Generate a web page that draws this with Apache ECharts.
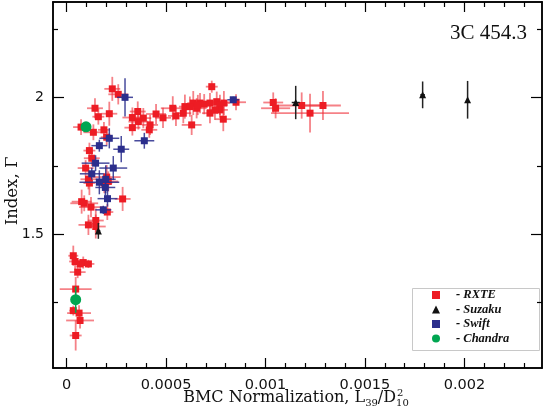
<!DOCTYPE html>
<html>
<head>
<meta charset="utf-8">
<script src="https://cdn.jsdelivr.net/npm/echarts@6/dist/echarts.min.js"></script>
<style>
    html, body { margin: 0; padding: 0; background: #fff; }
    #chart { width: 545px; height: 413px; }
</style>
</head>
<body>
<div id="chart"></div>
<script>
// RXTE points: x, y, x error, y error
const rxteX = [0.000034, 0.000043, 0.000068, 0.000084, 0.00011, 0.000056, 0.000046, 0.000034, 0.000063, 0.000068, 0.000046,
    0.00011, 0.000147, 0.000147, 0.000205, 0.000123, 0.000089, 0.000076, 0.000282, 0.000115, 0.00019, 0.00021, 0.000202,
    0.00011, 0.000096, 0.000127, 0.000115, 0.000073, 0.000135, 0.000188, 0.000202, 0.000143, 0.00016, 0.000215, 0.00023,
    0.00026, 0.000331, 0.000331, 0.000358, 0.000386, 0.00042, 0.000416, 0.00045, 0.000361, 0.000534, 0.000587, 0.000595,
    0.000637, 0.000671, 0.000654, 0.000692, 0.000721, 0.000755, 0.000771, 0.000791, 0.000721, 0.000771, 0.000629, 0.000788,
    0.000852, 0.00073, 0.00062, 0.000746, 0.00066, 0.000485, 0.00055,
    0.001039, 0.001051, 0.001182, 0.001224, 0.001289];
const rxteY = [1.421, 1.400, 1.391, 1.396, 1.391, 1.361, 1.299, 1.220, 1.211, 1.184, 1.129,
    1.534, 1.550, 1.528, 1.581, 1.599, 1.613, 1.619, 1.629, 1.687, 1.687, 1.693, 1.709,
    1.701, 1.742, 1.778, 1.806, 1.892, 1.873, 1.882, 1.855, 1.961, 1.930, 1.941, 2.032,
    2.012, 1.927, 1.890, 1.949, 1.925, 1.900, 1.882, 1.940, 1.912, 1.961, 1.943, 1.967,
    1.980, 1.980, 1.961, 1.976, 1.980, 1.985, 1.973, 1.980, 1.943, 1.955, 1.900, 1.921,
    1.983, 2.040, 1.967, 1.955, 1.973, 1.926, 1.933,
    1.982, 1.961, 1.971, 1.943, 1.971];
const rxteXErr = [0.000025, 0.00003, 0.00003, 0.000025, 0.00003, 0.00004, 0.00008, 0.00002, 0.00006, 0.00007, 0.00003,
    0.00005, 0.00004, 0.00005, 0.00003, 0.00006, 0.00007, 0.00005, 0.00004, 0.00003, 0.00004, 0.00005, 0.00007,
    0.00004, 0.00004, 0.00004, 0.00003, 0.00004, 0.00005, 0.00003, 0.00003, 0.00004, 0.00003, 0.00004, 0.00004,
    0.00005, 0.00005, 0.00004, 0.00004, 0.00004, 0.00004, 0.00004, 0.00005, 0.00005, 0.00006, 0.00004, 0.00003,
    0.00003, 0.00004, 0.00005, 0.00003, 0.00004, 0.00003, 0.00004, 0.00003, 0.00004, 0.00004, 0.00005, 0.00004,
    0.00005, 0.00003, 0.00004, 0.00004, 0.00004, 0.00004, 0.00004,
    0.00005, 0.000073, 0.000124, 0.000196, 0.00009];
const rxteYErr = [0.037, 0.029, 0.018, 0.022, 0.015, 0.022, 0.044, 0.018, 0.029, 0.029, 0.055,
    0.037, 0.044, 0.044, 0.029, 0.037, 0.029, 0.044, 0.044, 0.044, 0.037, 0.037, 0.044,
    0.037, 0.029, 0.029, 0.029, 0.029, 0.029, 0.029, 0.029, 0.037, 0.029, 0.044, 0.044,
    0.037, 0.037, 0.029, 0.037, 0.037, 0.037, 0.029, 0.037, 0.029, 0.044, 0.037, 0.044,
    0.044, 0.037, 0.037, 0.037, 0.037, 0.037, 0.037, 0.044, 0.037, 0.029, 0.037, 0.044,
    0.029, 0.022, 0.037, 0.037, 0.037, 0.037, 0.037,
    0.037, 0.037, 0.048, 0.071, 0.053];

// Suzaku
const suzakuX = [0.00016, 0.001152, 0.00179, 0.002016];
const suzakuY = [1.512, 1.982, 2.010, 1.992];
const suzakuXErr = [0.00001, 0.00002, 0.000012, 0];
const suzakuYErr = [0.029, 0.061, 0.049, 0.069];

// Swift
const swiftX = [0.000294, 0.000215, 0.000165, 0.000275, 0.000391, 0.000146, 0.000235, 0.000127, 0.000165, 0.000197,
    0.000195, 0.000206, 0.000185, 0.000838];
const swiftY = [2.001, 1.851, 1.824, 1.811, 1.842, 1.760, 1.742, 1.721, 1.690, 1.701,
    1.671, 1.630, 1.589, 1.992];
const swiftXErr = [0.00004, 0.00005, 0.00004, 0.00004, 0.00005, 0.00007, 0.00007, 0.00006, 0.0001, 0.00005,
    0.00005, 0.00005, 0.00004, 0.00003];
const swiftYErr = [0.07, 0.037, 0.022, 0.048, 0.029, 0.029, 0.044, 0.022, 0.044, 0.051,
    0.029, 0.029, 0.015, 0.011];

// Chandra
const chandraX = [0.000098, 0.000046];
const chandraY = [1.893, 1.260];
const chandraXErr = [0, 0];
const chandraYErr = [0.012, 0.048];

const xMajorTicks = [0, 0.0005, 0.001, 0.0015, 0.002];
const xTickLabels = ['0', '0.0005', '0.001', '0.0015', '0.002'];
const xMinorTicks = [0.0001, 0.0002, 0.0003, 0.0004, 0.0006, 0.0007, 0.0008, 0.0009, 0.0011, 0.0012,
    0.0013, 0.0014, 0.0016, 0.0017, 0.0018, 0.0019, 0.0021, 0.0022, 0.0023];
const yMajorTicks = [1.5, 2];
const yTickLabels = ['1.5', '2'];
const yMinorTicks = [1.25, 1.75, 2.25];

const X_MIN = -0.000068, X_MAX = 0.00239;
const Y_MIN = 1.01, Y_MAX = 2.35;

function rows(xs, ys, xe, ye) {
    return xs.map((x, i) => [x, ys[i], xe[i], ye[i]]);
}

function errorBars(color, width) {
    return function (params, api) {
        const x = api.value(0), y = api.value(1), xe = api.value(2), ye = api.value(3);
        const l = api.coord([x - xe, y]), r = api.coord([x + xe, y]);
        const t = api.coord([x, y + ye]), b = api.coord([x, y - ye]);
        const style = { stroke: color, lineWidth: width };
        return {
            type: 'group',
            children: [
                { type: 'line', shape: { x1: l[0], y1: l[1], x2: r[0], y2: r[1] }, style: style },
                { type: 'line', shape: { x1: t[0], y1: t[1], x2: b[0], y2: b[1] }, style: style }
            ]
        };
    };
}

function xAxisDef(position, ticks, len, labels) {
    return {
        type: 'value', position: position, min: X_MIN, max: X_MAX,
        axisLine: { show: true, onZero: false, lineStyle: { color: '#000', width: 1.5 } },
        axisTick: { show: true, inside: true, length: len, customValues: ticks, lineStyle: { color: '#000', width: 1.2 } },
        axisLabel: labels ? {
            show: true, customValues: ticks, margin: 10,
            fontFamily: 'DejaVu Sans', fontSize: 14.5, color: '#111',
            formatter: (v) => xTickLabels[xMajorTicks.findIndex(t => Math.abs(t - v) < 1e-9)] || ''
        } : { show: false },
        splitLine: { show: false }
    };
}

function yAxisDef(position, ticks, len, labels) {
    return {
        type: 'value', position: position, min: Y_MIN, max: Y_MAX,
        axisLine: { show: true, onZero: false, lineStyle: { color: '#000', width: 1.5 } },
        axisTick: { show: true, inside: true, length: len, customValues: ticks, lineStyle: { color: '#000', width: 1.2 } },
        axisLabel: labels ? {
            show: true, customValues: ticks, margin: 9,
            fontFamily: 'DejaVu Sans', fontSize: 14, color: '#111',
            formatter: (v) => yTickLabels[yMajorTicks.findIndex(t => Math.abs(t - v) < 1e-9)] || ''
        } : { show: false },
        splitLine: { show: false }
    };
}

// x axis title with sub/superscripts, laid out from measured widths
const measureCtx = document.createElement('canvas').getContext('2d');
function textWidth(str, size) {
    measureCtx.font = size + 'px "DejaVu Serif"';
    return measureCtx.measureText(str).width;
}
const titleParts = [
    { text: 'BMC Normalization, L', size: 16, dy: 0 },
    { text: '39', size: 10, dy: 5 },
    { text: '/D', size: 16, dy: 0 },
    { text: '10', size: 10, dy: 5, sup: '2' }
];
const titleCenterX = 296, titleCenterY = 398;
const titleWidth = titleParts.reduce((s, p) => s + textWidth(p.text, p.size), 0);
const titleGraphics = [];
let cursor = titleCenterX - titleWidth / 2;
titleParts.forEach((p) => {
    titleGraphics.push({
        type: 'text', x: cursor, y: titleCenterY + p.dy,
        style: { text: p.text, fontFamily: 'DejaVu Serif', fontSize: p.size, fill: '#111', align: 'left', verticalAlign: 'middle' }
    });
    if (p.sup) {
        titleGraphics.push({
            type: 'text', x: cursor + 1, y: titleCenterY - 5,
            style: { text: p.sup, fontFamily: 'DejaVu Serif', fontSize: 10, fill: '#111', align: 'left', verticalAlign: 'middle' }
        });
    }
    cursor += textWidth(p.text, p.size);
});

const chart = echarts.init(document.getElementById('chart'), null, { renderer: 'canvas' });

const option = {
    backgroundColor: '#fff',
    animation: false,
    grid: { left: 53, right: 3, top: 2, bottom: 45, containLabel: false, outerBoundsMode: 'none' },
    title: {
        text: '3C 454.3', right: 13, top: 18,
        textStyle: { fontFamily: 'Liberation Serif', fontSize: 21, fontWeight: 'normal', color: '#111' }
    },
    xAxis: [
        xAxisDef('bottom', xMajorTicks, 10, true),
        xAxisDef('bottom', xMinorTicks, 5, false),
        xAxisDef('top', xMajorTicks, 10, false),
        xAxisDef('top', xMinorTicks, 5, false)
    ],
    yAxis: [
        yAxisDef('left', yMajorTicks, 11, true),
        yAxisDef('left', yMinorTicks, 5, false),
        yAxisDef('right', yMajorTicks, 11, false),
        yAxisDef('right', yMinorTicks, 5, false)
    ],
    legend: {
        orient: 'vertical', left: 432, top: 288,
        itemWidth: 8, itemHeight: 8, itemGap: 0.5, padding: 0,
        data: [
            { name: 'RXTE', icon: 'rect' },
            { name: 'Suzaku', icon: 'triangle' },
            { name: 'Swift', icon: 'rect' },
            { name: 'Chandra', icon: 'circle' }
        ],
        formatter: (name) => '- ' + name,
        textStyle: {
            fontFamily: 'Liberation Serif', fontSize: 12.5, fontStyle: 'italic', fontWeight: 'bold',
            color: '#111', lineHeight: 14, padding: [0, 0, 0, 11]
        }
    },
    graphic: [
        { type: 'rect', left: 410, top: 286, shape: { width: 127, height: 62 },
          style: { fill: 'none', stroke: '#c8c8c8', lineWidth: 1 }, z: 0 },
        { type: 'text', x: 13, y: 191, rotation: Math.PI / 2,
          style: { text: 'Index, Γ', fontFamily: 'DejaVu Serif', fontSize: 16.5, fill: '#111', align: 'center', verticalAlign: 'middle' } }
    ].concat(titleGraphics),
    series: [
        { name: 'RXTE bars', type: 'custom', renderItem: errorBars('rgba(238,45,55,0.6)', 1.8),
          data: rows(rxteX, rxteY, rxteXErr, rxteYErr), encode: { x: 0, y: 1 }, z: 2, silent: true },
        { name: 'RXTE', type: 'scatter', symbol: 'rect', symbolSize: 7,
          itemStyle: { color: '#ed1c24', opacity: 1 }, data: rows(rxteX, rxteY, rxteXErr, rxteYErr), z: 3 },
        { name: 'Swift bars', type: 'custom', renderItem: errorBars('rgba(40,44,140,0.85)', 1.5),
          data: rows(swiftX, swiftY, swiftXErr, swiftYErr), encode: { x: 0, y: 1 }, z: 4, silent: true },
        { name: 'Swift', type: 'scatter', symbol: 'rect', symbolSize: 7,
          itemStyle: { color: '#2b2e8c', opacity: 1 }, data: rows(swiftX, swiftY, swiftXErr, swiftYErr), z: 5 },
        { name: 'Suzaku bars', type: 'custom', renderItem: errorBars('#222', 1.5),
          data: rows(suzakuX, suzakuY, suzakuXErr, suzakuYErr), encode: { x: 0, y: 1 }, z: 6, silent: true },
        { name: 'Suzaku', type: 'scatter', symbol: 'triangle', symbolSize: 7,
          itemStyle: { color: '#111', opacity: 1 }, data: rows(suzakuX, suzakuY, suzakuXErr, suzakuYErr), z: 7 },
        { name: 'Chandra bars', type: 'custom', renderItem: errorBars('#00a651', 1.5),
          data: rows(chandraX, chandraY, chandraXErr, chandraYErr), encode: { x: 0, y: 1 }, z: 8, silent: true },
        { name: 'Chandra', type: 'scatter', symbol: 'circle', symbolSize: 11,
          itemStyle: { color: '#00a651', opacity: 1 }, data: rows(chandraX, chandraY, chandraXErr, chandraYErr), z: 9 }
    ]
};

chart.setOption(option);
</script>
</body>
</html>
